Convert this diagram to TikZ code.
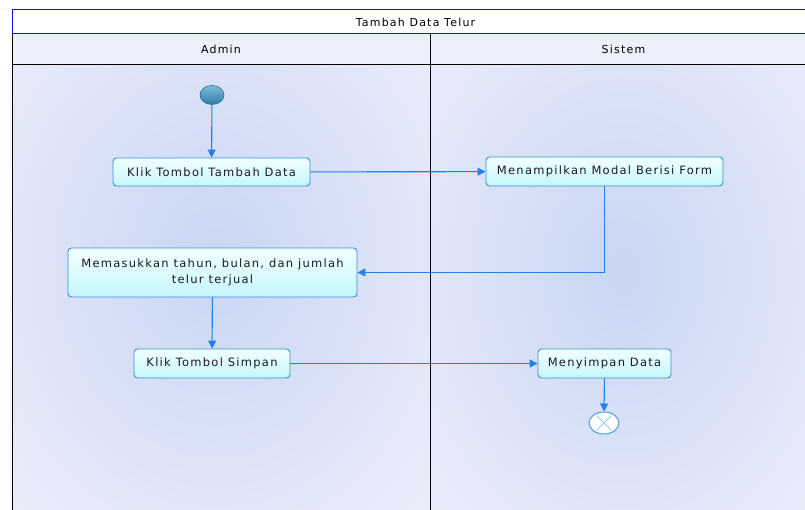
\documentclass[tikz,border=0pt]{standalone}
\usepackage{fontspec}
\setmainfont{DejaVu Sans}[LetterSpace=11]
\usetikzlibrary{arrows.meta,shapes.geometric,calc}

\definecolor{lanebg}{HTML}{ECEDFA}
\definecolor{laneglow}{HTML}{C8D6F3}
\definecolor{headbg}{HTML}{EDEFFB}
\definecolor{titleline}{HTML}{1414E6}
\definecolor{boxtop}{HTML}{F2FFFF}
\definecolor{boxbot}{HTML}{C4F7FD}
\definecolor{boxline}{HTML}{3A8ED6}
\definecolor{flowcol}{HTML}{1F80F0}
\definecolor{starttop}{HTML}{7DB9D8}
\definecolor{startbot}{HTML}{2F7FA9}
\definecolor{startline}{HTML}{2A6E98}
\definecolor{endring}{HTML}{4A9FD8}
\definecolor{endcross}{HTML}{9CC8E6}
\definecolor{txt}{HTML}{1E1826}

\tikzset{
  action/.style={rectangle, rounded corners=3.5pt, draw=boxline, line width=0.9pt,
    top color=boxtop, bottom color=boxbot, text=txt, font=\fontsize{11.5}{15.5}\selectfont,
    inner sep=0pt, align=center},
  flow/.style={draw=flowcol, line width=1.1pt,
    -{Triangle[length=8pt,width=8pt]}},
  lanehead/.style={font=\fontsize{11}{12}\selectfont, text=black},
  startnode/.style={ellipse, draw=startline, line width=0.6pt, top color=starttop,
    bottom color=startbot, minimum width=24pt, minimum height=19pt, inner sep=0pt},
  endnode/.style={ellipse, draw=endring, line width=1pt, fill=white,
    minimum width=30pt, minimum height=22pt, inner sep=0pt}
}

\begin{document}
\begin{tikzpicture}[x=1pt,y=-1pt]
  \useasboundingbox (0,0) rectangle (805,510);
  \fill[white] (0,0) rectangle (805,510);

  % swimlane bodies with a soft glow in each
  \fill[lanebg] (12,65) rectangle (805,510);
  \begin{scope}
    \clip (12,65) rectangle (430,510);
    \shade[inner color=laneglow, outer color=lanebg] (215,262) ellipse (300pt and 360pt);
  \end{scope}
  \begin{scope}
    \clip (430,65) rectangle (805,510);
    \shade[inner color=laneglow, outer color=lanebg] (622,272) ellipse (280pt and 360pt);
  \end{scope}

  % title bar and lane headers
  \fill[headbg] (12,34) rectangle (805,65);
  \draw[titleline, line width=1pt] (805,10) -- (12,10) -- (12,34) -- (805,34);
  \draw[black, line width=1pt] (12,34) -- (12,510);
  \draw[black, line width=1pt] (12,65) -- (805,65);
  \draw[black, line width=1pt] (430,34) -- (430,510);
  \node[lanehead] (title) at (415.5,22) {Tambah Data Telur};
  \node[lanehead] (admin) at (221,49) {Admin};
  \node[lanehead] (sistem) at (623.5,49) {Sistem};

  % activities
  \node[startnode] (start) at (212,95) {};
  \node[action, minimum width=197pt, minimum height=28pt] (b1) at (211.5,172) {Klik Tombol Tambah Data};
  \node[action, minimum width=237pt, minimum height=29pt] (b2) at (604.5,171.5) {Menampilkan Modal Berisi Form};
  \node[action, minimum width=289pt, minimum height=49pt] (b3) at (212.5,272.5) {Memasukkan tahun, bulan, dan jumlah\\telur terjual};
  \node[action, minimum width=156pt, minimum height=29pt] (b4) at (212,363.5) {Klik Tombol Simpan};
  \node[action, minimum width=133pt, minimum height=29pt] (b5) at (604.5,363.5) {Menyimpan Data};
  \node[endnode] (stop) at (604,423) {};
  \draw[endcross, line width=1pt]
    ($(stop.center)+(-7.5,-7.5)$) -- ($(stop.center)+(7.5,7.5)$)
    ($(stop.center)+(-7.5,7.5)$) -- ($(stop.center)+(7.5,-7.5)$);

  % control flow
  \draw[flow] (start) -- (b1);
  \draw[flow] (b1) -- (b2);
  \draw[flow] (b2.south) |- (b3.east);
  \draw[flow] (b3) -- (b4);
  \draw[flow] (b4) -- (b5);
  \draw[flow] (b5) -- (stop);
\end{tikzpicture}
\end{document}
